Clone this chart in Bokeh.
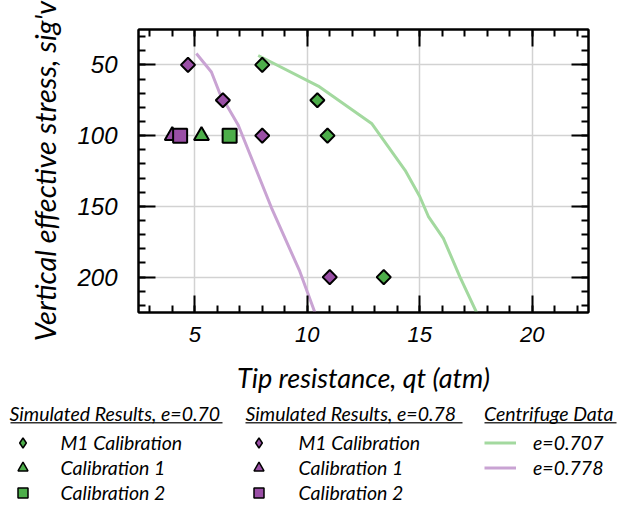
from bokeh.plotting import figure
from bokeh.layouts import column
from bokeh.models import (Range1d, LinearAxis, FixedTicker, Legend, LegendItem,
                          BoxAnnotation)
from bokeh.embed import file_html
from bokeh.resources import INLINE
import math

# ---------------- data ----------------
# Simulated results, e=0.70
m1_070_q = [8.0, 10.45, 10.9, 13.4]
m1_070_s = [50, 75, 100, 200]
cal1_070_q = [5.3]
cal1_070_s = [100]
cal2_070_q = [6.55]
cal2_070_s = [100]
# Simulated results, e=0.78
m1_078_q = [4.7, 6.25, 8.0, 11.0]
m1_078_s = [50, 75, 100, 200]
cal1_078_q = [4.0]
cal1_078_s = [100]
cal2_078_q = [4.35]
cal2_078_s = [100]
# Centrifuge data
cent_0707_q = [7.82, 10.49, 12.86, 14.35, 15.0, 15.38, 16.05, 16.79, 17.54]
cent_0707_s = [43.4, 65, 91.4, 124.5, 143, 157, 172.6, 200, 225.5]
cent_0778_q = [5.07, 5.74, 6.11, 6.93, 8.41, 9.67, 10.34]
cent_0778_s = [42, 55, 70, 92.5, 151, 196, 225]

x_ticks = [5, 10, 15, 20]
y_ticks = [50, 100, 150, 200]

GREEN = "#4dae4a"
PURPLE = "#9a4fa6"
LGREEN = "#a3d99f"
LPURPLE = "#c9a3d3"

W = 618
p = figure(width=W, height=398, x_range=Range1d(2.5, 22.5), y_range=Range1d(225, 25),
           output_backend="svg", toolbar_location=None,
           min_border_left=138, min_border_right=30, min_border_top=29, min_border_bottom=86)
p.frame_align = False
p.background_fill_color = "white"
p.border_fill_color = "white"
p.outline_line_color = "black"
p.outline_line_width = 2

xt = FixedTicker(ticks=x_ticks, minor_ticks=list(range(3, 23)))
yt = FixedTicker(ticks=y_ticks, minor_ticks=list(range(30, 225, 10)))

bottom_ax = p.below[0]
left_ax = p.left[0]
top_ax = LinearAxis()
right_ax = LinearAxis()
p.add_layout(top_ax, "above")
p.add_layout(right_ax, "right")

for ax in [bottom_ax, top_ax]:
    ax.ticker = xt
for ax in [left_ax, right_ax]:
    ax.ticker = yt
for ax in [bottom_ax, top_ax, left_ax, right_ax]:
    ax.major_tick_in = 17
    ax.major_tick_out = 0
    ax.minor_tick_in = 7
    ax.minor_tick_out = 0
    ax.axis_line_width = 2
    ax.major_tick_line_width = 2
    ax.minor_tick_line_width = 2
    ax.major_label_text_font = "Liberation Sans"
    ax.major_label_text_font_style = "italic"
    ax.major_label_text_font_size = "22px"
    ax.major_label_text_color = "black"
    ax.axis_label_text_font = "Lato"
    ax.axis_label_text_font_style = "italic"
    ax.axis_label_text_font_size = "27px"
    ax.axis_label_text_color = "black"

for ax in [top_ax, right_ax]:
    ax.major_label_text_font_size = "1px"
    ax.major_label_text_color = None
    ax.major_label_standoff = 0

bottom_ax.axis_label = "Tip resistance, qt (atm)"
bottom_ax.major_label_standoff = 14
bottom_ax.axis_label_standoff = 16
left_ax.axis_label = "Vertical effective stress, sig'v"
left_ax.major_label_text_font_size = "24px"
left_ax.major_label_standoff = 21
left_ax.axis_label_standoff = 12
left_ax.axis_label_text_font_size = "29px"

p.xgrid.ticker = xt
p.ygrid.ticker = yt
p.xgrid.grid_line_color = "#d2d2d2"
p.ygrid.grid_line_color = "#d2d2d2"
p.xgrid.grid_line_width = 1.5
p.ygrid.grid_line_width = 1.5

MK = dict(line_color="black", line_width=2)

l1 = p.line(cent_0707_q, cent_0707_s, line_color=LGREEN, line_width=3)
l2 = p.line(cent_0778_q, cent_0778_s, line_color=LPURPLE, line_width=3)
p.scatter(m1_070_q, m1_070_s, marker="square", size=10, angle=math.pi / 4, fill_color=GREEN, **MK)
p.scatter(cal1_070_q, cal1_070_s, marker="triangle", size=15, fill_color=GREEN, **MK)
p.scatter(cal2_070_q, cal2_070_s, marker="square", size=14, fill_color=GREEN, **MK)
p.scatter(m1_078_q, m1_078_s, marker="square", size=10, angle=math.pi / 4, fill_color=PURPLE, **MK)
p.scatter(cal1_078_q, cal1_078_s, marker="triangle", size=15, fill_color=PURPLE, **MK)
p.scatter(cal2_078_q, cal2_078_s, marker="square", size=14, fill_color=PURPLE, **MK)

# ---------------- legend panel ----------------
# its ranges are set away from the data so that its renderers only feed the legends
LH = 108
lf = figure(width=W, height=LH, x_range=Range1d(100, 101), y_range=Range1d(1000, 1001),
            output_backend="svg", toolbar_location=None,
            min_border=0, x_axis_location=None, y_axis_location=None)
lf.frame_align = False
lf.outline_line_color = None
lf.grid.visible = False

LMK = dict(line_color="black", line_width=1.5)
g1 = lf.scatter(m1_070_q, m1_070_s, marker="diamond", fill_color=GREEN, **LMK)
g2 = lf.scatter(cal1_070_q, cal1_070_s, marker="triangle", fill_color=GREEN, **LMK)
g3 = lf.scatter(cal2_070_q, cal2_070_s, marker="square", fill_color=GREEN, **LMK)
g4 = lf.scatter(m1_078_q, m1_078_s, marker="diamond", fill_color=PURPLE, **LMK)
g5 = lf.scatter(cal1_078_q, cal1_078_s, marker="triangle", fill_color=PURPLE, **LMK)
g6 = lf.scatter(cal2_078_q, cal2_078_s, marker="square", fill_color=PURPLE, **LMK)
g7 = lf.line(cent_0707_q, cent_0707_s, line_color=LGREEN, line_width=3)
g8 = lf.line(cent_0778_q, cent_0778_s, line_color=LPURPLE, line_width=3)


def make_legend(title, items, loc, gw, standoff):
    lg = Legend(items=items, title=title, location=loc, orientation="vertical")
    lg.title_text_font = "Lato"
    lg.title_text_font_style = "italic"
    lg.title_text_font_size = "19.5px"
    lg.title_text_color = "black"
    lg.title_standoff = 5
    lg.label_text_font = "Lato"
    lg.label_text_font_style = "italic"
    lg.label_text_font_size = "19.5px"
    lg.label_text_color = "black"
    lg.glyph_width = gw
    lg.glyph_height = 25
    lg.label_height = 25
    lg.spacing = 0
    lg.padding = 0
    lg.margin = 0
    lg.label_standoff = standoff
    lg.border_line_color = None
    lg.background_fill_alpha = 0
    lf.add_layout(lg)
    return lg


make_legend("Simulated Results, e=0.70",
            [LegendItem(label="M1 Calibration", renderers=[g1]),
             LegendItem(label="Calibration 1", renderers=[g2]),
             LegendItem(label="Calibration 2", renderers=[g3])],
            (9.5, 1.5), 25, 26)
make_legend("Simulated Results, e=0.78",
            [LegendItem(label="M1 Calibration", renderers=[g4]),
             LegendItem(label="Calibration 1", renderers=[g5]),
             LegendItem(label="Calibration 2", renderers=[g6])],
            (245.5, 1.5), 25, 28)
make_legend("Centrifuge Data",
            [LegendItem(label="e=0.707", renderers=[g7]),
             LegendItem(label="e=0.778", renderers=[g8])],
            (484, 26.5), 32, 17)

# underlines of legend titles
for left, right in [(10, 222), (245, 462), (484, 616)]:
    lf.add_layout(BoxAnnotation(left=left, right=right, top=23.5, bottom=25,
                                left_units="canvas", right_units="canvas",
                                top_units="canvas", bottom_units="canvas",
                                fill_color="#333333", fill_alpha=1, line_color=None))

layout = column(p, lf, spacing=0)
open("out.html", "w").write(file_html(layout, INLINE))
